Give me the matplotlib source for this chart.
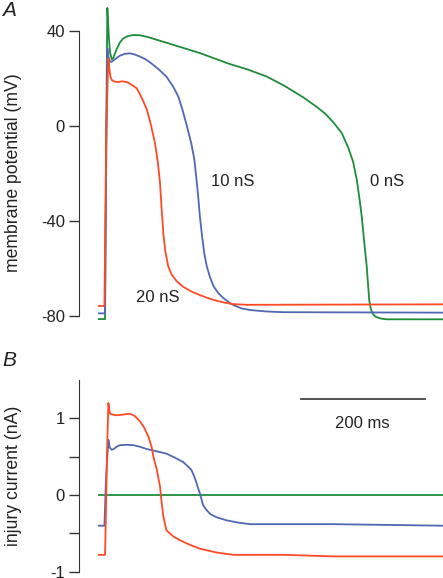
import matplotlib
matplotlib.use("Agg")
import matplotlib.pyplot as plt

plt.rcParams['font.family'] = ['Liberation Sans', 'DejaVu Sans']
plt.rcParams['axes.unicode_minus'] = False

# membrane potential (mV) vs time (ms)
t_v0 = [-10, 0, 1, 2, 3.7, 6, 8, 10.8, 13, 16, 18.9, 24, 29.5, 37, 45.6, 56, 67, 100, 153, 200,
        230, 261, 290, 320, 341, 355, 368, 382, 392, 400, 406, 410, 414, 418, 422, 426, 428.5,
        431, 434, 437, 445, 454, 545]
v_0nS = [-81.3, -81.3, -40, 0, 49.7, 38, 31, 28.1, 28.5, 30.5, 32.5, 35.2, 36.9, 37.9, 38.3,
         38.2, 37.6, 35.0, 30.7, 26.2, 23.8, 20.8, 16.8, 12.0, 8.1, 5.2, 1.6, -3.1, -9, -15,
         -22.7, -30, -38.2, -49, -59.2, -73.3, -77, -78.7, -79.8, -80.4, -81.1, -81.4, -81.4]

t_v10 = [-10, 0, 1, 2.5, 3.7, 6, 8.5, 10.8, 15, 20, 24, 32, 40.3, 48, 56.5, 64, 72.6, 85, 99,
         110, 118, 125, 132, 139, 144, 147, 150, 153, 156.5, 160, 164, 169, 175, 183, 191, 200,
         207, 220, 234, 260, 287, 545]
v_10nS = [-78.9, -78.9, -40, 0, 32.7, 28.5, 27.0, 27.1, 27.9, 28.9, 29.6, 30.4, 30.6, 30.1,
          29.2, 28.3, 26.8, 24.2, 20.8, 16.5, 12.5, 6.7, 0, -7.3, -14, -21.3, -29, -38.2, -46.5,
          -53.6, -59, -63.5, -67.5, -70.5, -72.5, -74.3, -75.4, -76.8, -77.5, -78.1, -78.4, -78.6]

t_v20 = [-10, -1, 0.5, 2, 5.4, 7, 9, 10.8, 14, 20, 28, 35.5, 43, 51, 58, 64, 67.7, 74, 80.6, 85,
         88.7, 91, 94, 97, 102, 108, 116, 126, 140, 153, 164, 180, 195, 206, 230, 545]
v_20nS = [-75.8, -75.8, -40, 0, 28.5, 24, 20.5, 19.4, 18.8, 18.5, 18.8, 18.5, 17.3, 15.9, 12.5,
          9, 6.7, 0.5, -7.3, -15, -24.1, -34, -45.2, -52.5, -59.2, -62.8, -65.5, -67.7, -69.8,
          -71.2, -72.3, -73.6, -74.5, -75.0, -75.3, -75.1]

# injury current (nA)
t_i0 = [-10, 545]
i_0nS = [0, 0]

t_i10 = [-10, -1, 1.5, 5.4, 7.5, 10.8, 14, 18.9, 24, 35, 45.6, 56, 67, 83, 99, 112, 126, 134,
         139, 143, 147, 150, 153, 158, 163, 170, 180, 196, 215, 234, 368, 545]
i_10nS = [-0.40, -0.40, 0.2, 0.72, 0.62, 0.59, 0.60, 0.63, 0.65, 0.655, 0.65, 0.63, 0.60, 0.57,
          0.54, 0.49, 0.43, 0.37, 0.33, 0.26, 0.17, 0.09, 0.02, -0.13, -0.19, -0.25, -0.29,
          -0.33, -0.36, -0.38, -0.38, -0.40]

t_i20 = [-10, 0, 1.5, 3, 5.4, 7, 8.1, 12, 18.9, 30, 40.3, 48, 56.5, 63, 70, 75, 78, 83.5, 86,
         88.7, 91, 94, 99, 110, 121, 137, 153, 180, 207, 288, 368, 545]
i_20nS = [-0.78, -0.78, -0.2, 0.5, 1.20, 1.10, 1.06, 1.05, 1.04, 1.05, 1.06, 1.03, 0.96, 0.88,
          0.76, 0.63, 0.50, 0.33, 0.22, 0.11, -0.08, -0.28, -0.46, -0.54, -0.59, -0.65, -0.70,
          -0.75, -0.78, -0.78, -0.80, -0.80]

c_green = '#1e8c3a'
c_blue = '#5068b4'
c_red = '#ff4a26'
txt = '#222222'


def style_axis(ax, lo, hi, ticks):
    for s in ['top', 'right', 'bottom']:
        ax.spines[s].set_visible(False)
    ax.spines['left'].set_bounds(lo, hi)
    ax.spines['left'].set_color('#333333')
    ax.set_xticks([])
    ax.set_yticks(ticks)
    ax.tick_params(axis='y', direction='out', length=7, width=1, color='#333333',
                   labelsize=12, labelcolor=txt, pad=3)
    ax.patch.set_visible(False)


W, H = 443, 578
fig = plt.figure(figsize=(W / 100, H / 100), dpi=100)


def ftext(x, y, s, **kw):
    # text placed in figure pixels, measured from top-left
    fig.text(x / W, 1 - y / H, s, color=txt, **kw)


xlim = (-42, 545)
lw = 1.3

# panel A
axA = fig.add_axes([79 / W, 1 - 325 / H, (W - 79) / W, 320 / H])
axA.plot(t_v0, v_0nS, color=c_green, lw=lw)
axA.plot(t_v10, v_10nS, color=c_blue, lw=lw)
axA.plot(t_v20, v_20nS, color=c_red, lw=lw)
axA.set_xlim(*xlim)
axA.set_ylim(-83.8, 50.95)
style_axis(axA, -80, 40, [-80, -40, 0, 40])

# panel B
axB = fig.add_axes([79 / W, 0, (W - 79) / W, 203 / H])
axB.plot(t_i0, i_0nS, color=c_green, lw=lw)
axB.plot(t_i10, i_10nS, color=c_blue, lw=lw)
axB.plot(t_i20, i_20nS, color=c_red, lw=lw)
axB.set_xlim(*xlim)
axB.set_ylim(-1.082, 1.565)
style_axis(axB, -1, 1.5, [-1, -0.5, 0, 0.5, 1])
axB.set_yticklabels(['-1', '', '0', '', '1'])

# 200 ms scale bar
axB.plot([316, 516], [1.25, 1.25], color='#444444', lw=1.3)

ftext(14, 173, 'membrane potential (mV)', fontsize=12.7, rotation=90, ha='center', va='center')
ftext(14, 476, 'injury current (nA)', fontsize=12.7, rotation=90, ha='center', va='center')
ftext(233, 182, '10 nS', fontsize=12, ha='center', va='center')
ftext(387, 182, '0 nS', fontsize=12, ha='center', va='center')
ftext(158, 297, '20 nS', fontsize=12, ha='center', va='center')
ftext(362, 423, '200 ms', fontsize=12, ha='center', va='center')
ftext(2, 11, 'A', fontsize=15, style='italic', ha='left', va='center')
ftext(2, 360, 'B', fontsize=15, style='italic', ha='left', va='center')

fig.savefig('out.png', dpi=100)
